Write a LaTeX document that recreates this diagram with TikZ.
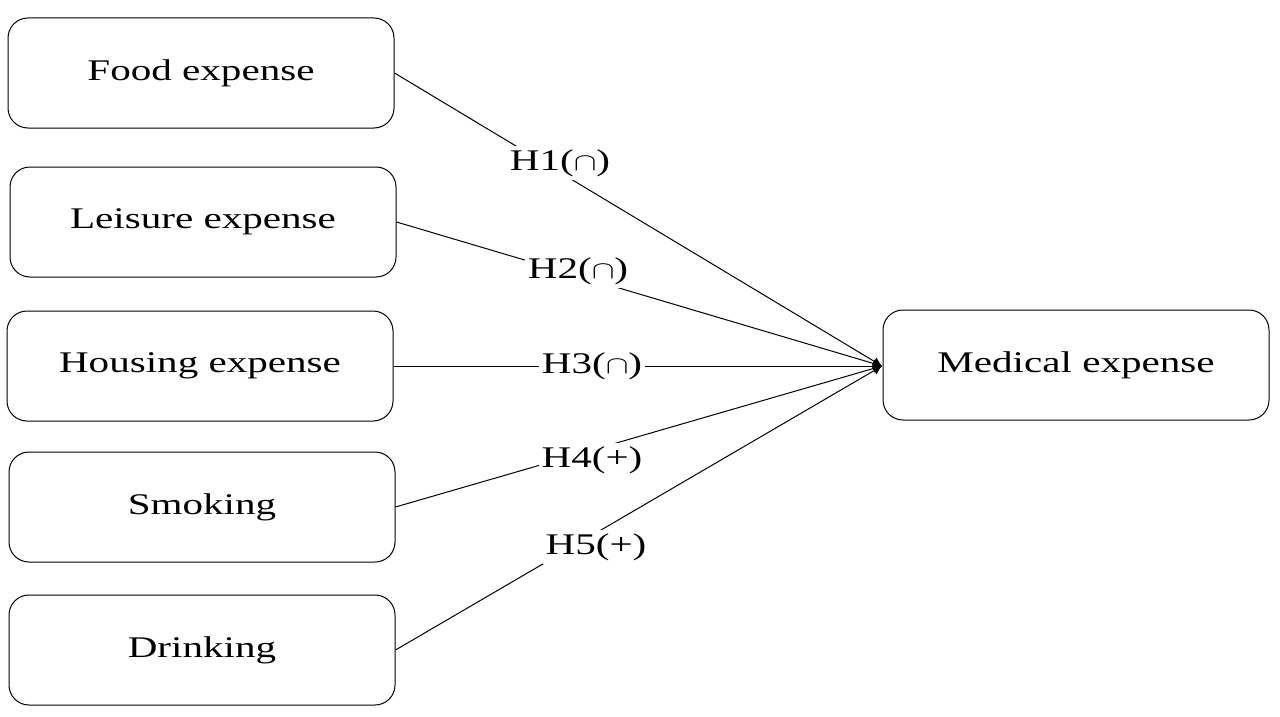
\documentclass[tikz,border=0pt]{standalone}
\usepackage{fontspec}
\setmainfont{Liberation Serif}
\usetikzlibrary{arrows.meta}
\newcommand{\wtxt}[1]{\scalebox{1.37}[1]{#1}}
\begin{document}
\begin{tikzpicture}[x=1pt,y=-1pt,
 box/.style={draw,rounded corners=20pt,minimum width=386pt,minimum height=110pt,font=\fontsize{30}{34}\selectfont,line width=1pt},
 lab/.style={fill=white,inner sep=3pt,font=\fontsize{30}{34}\selectfont},
 con/.style={line width=1pt,-{Latex[length=9pt,width=9pt]}}]
\useasboundingbox (0,0) rectangle (1280,717);
\node[box] (food) at (201,73) {\wtxt{Food expense}};
\node[box] (leis) at (203,222) {\wtxt{Leisure expense}};
\node[box] (hous) at (200,366) {\wtxt{Housing expense}};
\node[box] (smok) at (202,507) {\wtxt{Smoking}};
\node[box] (drin) at (202,650) {\wtxt{Drinking}};
\node[box] (med) at (1076,365) {\wtxt{Medical expense}};
\coordinate (t) at (882,366);
\draw[con] (food.east) -- (t);
\draw[con] (leis.east) -- (t);
\draw[con] (hous.east) -- (t);
\draw[con] (smok.east) -- (t);
\draw[con] (drin.east) -- (t);
\node[lab] (h1) at (560,163) {\wtxt{H1($\cap$)}};
\node[lab] (h2) at (578,271) {\wtxt{H2($\cap$)}};
\node[lab] (h3) at (592,366) {\wtxt{H3($\cap$)}};
\node[lab] (h4) at (592,460) {\wtxt{H4(+)}};
\node[lab] (h5) at (596,547) {\wtxt{H5(+)}};
\end{tikzpicture}
\end{document}
